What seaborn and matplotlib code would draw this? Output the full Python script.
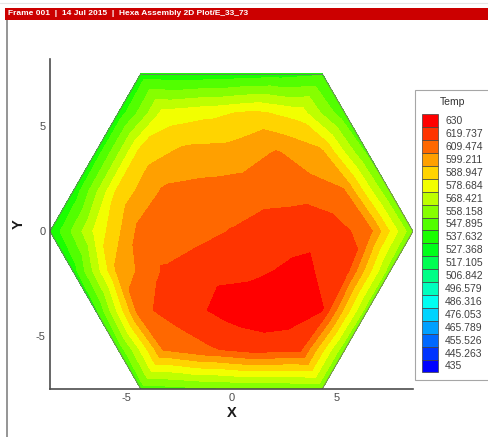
import numpy as np
import matplotlib
matplotlib.use("Agg")
import matplotlib.pyplot as plt
import matplotlib.tri as mtri
from matplotlib.patches import Patch, Rectangle
from matplotlib.lines import Line2D
from matplotlib.collections import LineCollection
from matplotlib.ticker import MultipleLocator
import seaborn as sns

# contour levels of Temp (legend, top = 630)
levels = [435, 445.263, 455.526, 465.789, 476.053, 486.316, 496.579, 506.842,
          517.105, 527.368, 537.632, 547.895, 558.158, 568.421, 578.684,
          588.947, 599.211, 609.474, 619.737, 630]

# hexagon mesh rows (y of each row, top to bottom) and Temp at the nodes of each row
row_y = [7.5, 5.625, 3.75, 1.875, 0.0, -1.875, -3.75, -5.625, -7.5]
temp_rows = [
    [532, 530, 531, 533, 536],
    [531, 572, 576, 581, 574, 540],
    [531, 583, 592, 593, 600, 591, 545],
    [530, 582, 601, 603, 605, 606, 600, 548],
    [528, 571, 603, 604, 610, 615, 617, 605, 550],
    [532, 592, 610.5, 617, 618, 622, 615, 552],
    [535, 607, 616, 624, 627, 620, 552],
    [540, 600, 608, 614, 612, 550],
    [542, 545, 547, 548, 550],
]
hex_r = 8.66  # corner-to-centre distance of the assembly

title_text = "Frame 001  |  14 Jul 2015  |  Hexa Assembly 2D Plot/E_33_73"

sns.set_style("white")
plt.rcParams['font.family'] = ['Liberation Sans', 'DejaVu Sans']
plt.rcParams['axes.unicode_minus'] = False

# build the node list row by row
xs, ys, zs = [], [], []
for y, temps in zip(row_y, temp_rows):
    half = hex_r - abs(y) / np.sqrt(3)
    xs.extend(np.linspace(-half, half, len(temps)))
    ys.extend([y] * len(temps))
    zs.extend(temps)
xs, ys, zs = np.array(xs), np.array(ys), np.array(zs, dtype=float)

tri = mtri.Triangulation(xs, ys)
t = tri.triangles
area = np.abs((xs[t[:, 1]] - xs[t[:, 0]]) * (ys[t[:, 2]] - ys[t[:, 0]])
              - (xs[t[:, 2]] - xs[t[:, 0]]) * (ys[t[:, 1]] - ys[t[:, 0]]))
tri.set_mask(area < 1e-6)

# Tecplot style small rainbow
cmap = sns.blend_palette(["#0000ff", "#00ffff", "#00ff00", "#ffff00", "#ff0000"], as_cmap=True)
swatch = [cmap(i / (len(levels) - 1)) for i in range(len(levels))]

fig = plt.figure(figsize=(4.88, 4.37), dpi=100)
ax = fig.add_axes([50/488, 48/437, 363/488, 330/437])

ax.tricontourf(tri, zs, levels=levels, colors=swatch[1:])

# outline of the assembly from the boundary edges of the mesh
segs = []
nb = tri.neighbors
for i, tr in enumerate(t):
    if tri.mask[i]:
        continue
    for j in range(3):
        if nb[i, j] == -1:
            a, b = tr[j], tr[(j + 1) % 3]
            segs.append([(xs[a], ys[a]), (xs[b], ys[b])])
ax.add_collection(LineCollection(segs, colors='0.45', linewidths=0.6))

ax.set_xlim(-8.66, 8.66)
ax.set_ylim(-7.5, 8.2)
ax.xaxis.set_major_locator(MultipleLocator(5))
ax.xaxis.set_minor_locator(MultipleLocator(1))
ax.yaxis.set_major_locator(MultipleLocator(5))
ax.yaxis.set_minor_locator(MultipleLocator(1))
ax.tick_params(which='both', direction='in', color='0.3', labelcolor='0.3',
               labelsize=8, width=1)
ax.tick_params(which='major', length=5, pad=3)
ax.tick_params(which='minor', length=2.5)
sns.despine(ax=ax)
for s in ['left', 'bottom']:
    ax.spines[s].set_color('0.3')
    ax.spines[s].set_linewidth(1.2)

ax.set_xlabel("X", fontsize=10.5, fontweight='bold', color='0.1')
ax.set_ylabel("Y", fontsize=10.5, fontweight='bold', color='0.1')
ax.xaxis.set_label_coords(0.5, -0.052)
ax.yaxis.set_label_coords(-0.066, 0.5)

# legend
handles = [Patch(facecolor=swatch[i], edgecolor='0.25', linewidth=0.5)
           for i in range(len(levels) - 1, -1, -1)]
labels = [f"{v:g}" for v in levels[::-1]]
leg = fig.legend(handles, labels, title="Temp", loc='upper left',
                 bbox_to_anchor=(415/488, 1 - 90/437), borderaxespad=0,
                 fontsize=7.5, title_fontsize=7.5, handlelength=1.53, handleheight=1.53,
                 labelspacing=0, handletextpad=0.67, borderpad=0.7,
                 fancybox=False, framealpha=1, edgecolor='0.65')
leg.get_frame().set_linewidth(0.8)
leg._legend_box.sep = 5
for txt in leg.get_texts():
    txt.set_color('0.25')
leg.get_title().set_color('0.2')

# header bar of the frame
fig.add_artist(Rectangle((5/488, 1 - 19.5/437), 1, 11.5/437, transform=fig.transFigure,
                         facecolor='#cc0000', edgecolor='none'))
fig.text(8/488, 1 - 13.8/437, title_text, color='white', fontsize=6, fontweight='bold',
         va='center', ha='left')
fig.add_artist(Line2D([0, 1], [1 - 3/437, 1 - 3/437], transform=fig.transFigure,
                      color='#e6e6e6', lw=0.8))

# ruler on the left side of the workspace
axr = fig.add_axes([7/488, 0, 0.0001, 1 - 20/437])
axr.set_ylim(0, 417)
axr.set_yticks(np.arange(417 - 2, 0, -27))
axr.set_xticks([])
axr.tick_params(axis='y', direction='out', length=3, color='0.55', labelleft=False)
for s in ['top', 'right', 'bottom']:
    axr.spines[s].set_visible(False)
axr.spines['left'].set_color('0.55')
axr.spines['left'].set_linewidth(1.3)
axr.patch.set_alpha(0)

fig.savefig("out.png", dpi=100)
